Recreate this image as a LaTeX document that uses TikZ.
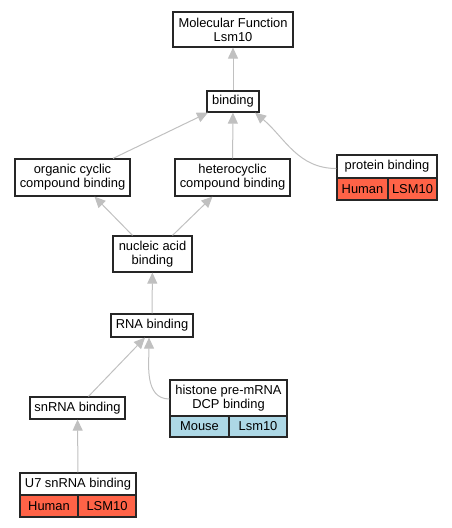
\documentclass[tikz,border=0pt]{standalone}
\usepackage{fontspec}
\setmainfont{Liberation Sans}
\usetikzlibrary{arrows.meta}
\definecolor{edgegray}{HTML}{C0C0C0}
\definecolor{humanred}{HTML}{FF6347}
\definecolor{mouseblue}{HTML}{ADD8E6}
\begin{document}
\begin{tikzpicture}[x=1pt,y=-1pt,
  box/.style={draw=black!85, line width=1.2pt, fill=white, inner sep=0pt, align=center,
              font=\fontsize{12.9}{14}\selectfont},
  human/.style={box, fill=humanred},
  mouse/.style={box, fill=mouseblue},
  edge/.style={draw=edgegray, line width=1pt, -{Triangle[length=11pt,width=10pt]}}]
\useasboundingbox (0,0) rectangle (452,528);
% nodes
\node[box, minimum width=120pt, minimum height=35pt] (mf) at (233,29.5) {Molecular Function\\Lsm10};
\node[box, minimum width=52pt, minimum height=21pt] (binding) at (233,101.5) {binding};
\node[box, minimum width=115pt, minimum height=37pt] (organic) at (72.5,177.5) {organic cyclic\\compound binding};
\node[box, minimum width=115pt, minimum height=37pt] (hetero) at (232.5,177.5) {heterocyclic\\compound binding};
\node[box, minimum width=100pt, minimum height=23pt] (protein) at (387,166.5) {protein binding};
\node[human, minimum width=51pt, minimum height=22pt] (proteinH) at (362.5,189) {Human};
\node[human, minimum width=49pt, minimum height=22pt] (proteinG) at (412.5,189) {LSM10};
\node[box, minimum width=79pt, minimum height=36pt] (nucleic) at (152.5,254) {nucleic acid\\binding};
\node[box, minimum width=82pt, minimum height=23pt] (rna) at (152,325.5) {RNA binding};
\node[box, minimum width=95pt, minimum height=22pt] (snrna) at (77.5,408) {snRNA binding};
\node[box, minimum width=117pt, minimum height=36pt] (histone) at (228.5,398) {histone pre-mRNA\\DCP binding};
\node[mouse, minimum width=59pt, minimum height=21pt] (histoneM) at (199.5,426.5) {Mouse};
\node[mouse, minimum width=58pt, minimum height=21pt] (histoneG) at (258,426.5) {Lsm10};
\node[box, minimum width=116pt, minimum height=22pt] (u7) at (78,484) {U7 snRNA binding};
\node[human, minimum width=58pt, minimum height=22pt] (u7H) at (49,506) {Human};
\node[human, minimum width=58pt, minimum height=22pt] (u7G) at (107,506) {LSM10};
% edges
\draw[edge] (binding) -- (mf);
\draw[edge] ([xshift=40.5pt]organic.north) -- ([xshift=-25pt]binding.south);
\draw[edge] (hetero) -- (binding);
\draw[edge] ([yshift=-2pt]protein.west) to[out=180,in=-40] ([xshift=22pt]binding.south);
\draw[edge] ([xshift=-20pt]nucleic.north) -- ([xshift=22pt]organic.south);
\draw[edge] ([xshift=20pt]nucleic.north) -- ([xshift=-20pt]hetero.south);
\draw[edge] (rna) -- (nucleic);
\draw[edge] ([xshift=11pt]snrna.north) -- ([xshift=-7pt]rna.south);
\draw[edge] ([yshift=-1pt]histone.west) to[out=180,in=-90] ([xshift=-3pt]rna.south);
\draw[edge] (u7) -- (snrna);
\end{tikzpicture}
\end{document}
